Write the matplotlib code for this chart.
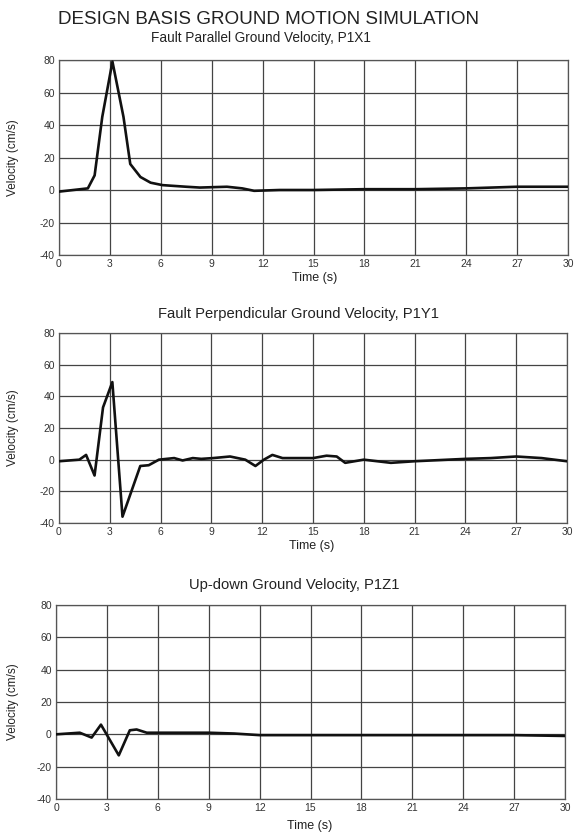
import numpy as np
import matplotlib.pyplot as plt

plt.rcParams['font.family'] = ['Liberation Sans', 'DejaVu Sans']
plt.rcParams['axes.unicode_minus'] = False

# fault parallel, P1X1
t1 = [0, 1.7, 2.1, 2.55, 3.15, 3.8, 4.2, 4.8, 5.4, 6.1, 7.5, 8.3, 9.9, 10.8, 11.5, 13, 15, 18, 21, 24, 27, 30]
v1 = [-1, 1, 9, 45, 79, 45, 16, 8, 4.5, 3, 2, 1.5, 2, 1, -0.5, 0, 0, 0.5, 0.5, 1, 2, 2]

# fault perpendicular, P1Y1
t2 = [0, 1.2, 1.6, 2.1, 2.6, 3.15, 3.75, 4.8, 5.3, 5.9, 6.8, 7.3, 7.9, 8.4, 9.1, 10.1, 11.0, 11.6, 12.1, 12.6, 13.2,
      15, 15.8, 16.4, 16.9, 18, 19.6, 21, 24, 25.5, 27, 28.5, 30]
v2 = [-1, 0, 3, -10, 33, 49, -36, -4, -3.5, 0, 1, -0.5, 1, 0.5, 1, 2, 0, -4, 0, 3, 1,
      1, 2.5, 2, -2, 0, -2, -1, 0.5, 1, 2, 1, -1]

# up-down, P1Z1
t3 = [0, 1.4, 2.1, 2.65, 3.7, 4.35, 4.75, 5.35, 7, 9, 10.5, 12, 15, 18, 21, 24, 27, 30]
v3 = [0, 1, -2, 6, -13, 2.5, 3, 1, 1, 1, 0.5, -0.5, -0.5, -0.5, -0.5, -0.5, -0.5, -1]

titles = ['Fault Parallel Ground Velocity, P1X1',
          'Fault Perpendicular Ground Velocity, P1Y1',
          'Up-down Ground Velocity, P1Z1']
xticks = [0, 3, 6, 9, 12, 15, 18, 21, 24, 27, 30]
yticks = [-40, -20, 0, 20, 40, 60, 80]

W, H = 579, 835
fig = plt.figure(figsize=(W / 100, H / 100), dpi=100)

# axes boxes in pixels: left, top, right, bottom
boxes = [(59, 60, 568, 255), (59, 333, 567, 523), (56, 605, 565, 799)]
title_xy = [(261, 38), (298, 314), (294, 585)]
title_fs = [9.8, 10.6, 10.6]
label_xy = [(315, 278), (312, 546), (310, 826)]

data = [(t1, v1), (t2, v2), (t3, v3)]
for i in range(3):
    l, t, r, b = boxes[i]
    ax = fig.add_axes([l / W, 1 - b / H, (r - l) / W, (b - t) / H])
    ax.plot(data[i][0], data[i][1], color='#111111', lw=1.9, zorder=3)
    ax.set_xlim(0, 30)
    ax.set_ylim(-40, 80)
    ax.set_xticks(xticks)
    ax.set_yticks(yticks)
    ax.grid(True, color='#444444', lw=0.9)
    ax.tick_params(labelsize=7.5, colors='#333333', length=0, pad=3)
    for s in ax.spines.values():
        s.set_color('#555555')
        s.set_linewidth(0.9)
    ax.set_ylabel('Velocity (cm/s)', fontsize=8.5, color='#222222')
    ax.yaxis.set_label_coords((19 - l) / (r - l), 0.5)
    fig.text(title_xy[i][0] / W, 1 - title_xy[i][1] / H, titles[i], ha='center', va='center',
             fontsize=title_fs[i], color='#222222')
    fig.text(label_xy[i][0] / W, 1 - label_xy[i][1] / H, 'Time (s)', ha='center', va='center',
             fontsize=9, color='#222222')

fig.text(268 / W, 1 - 19 / H, 'DESIGN BASIS GROUND MOTION SIMULATION', ha='center', va='center',
         fontsize=13.6, color='#222222')

fig.savefig('out.png', dpi=100, facecolor='white')
